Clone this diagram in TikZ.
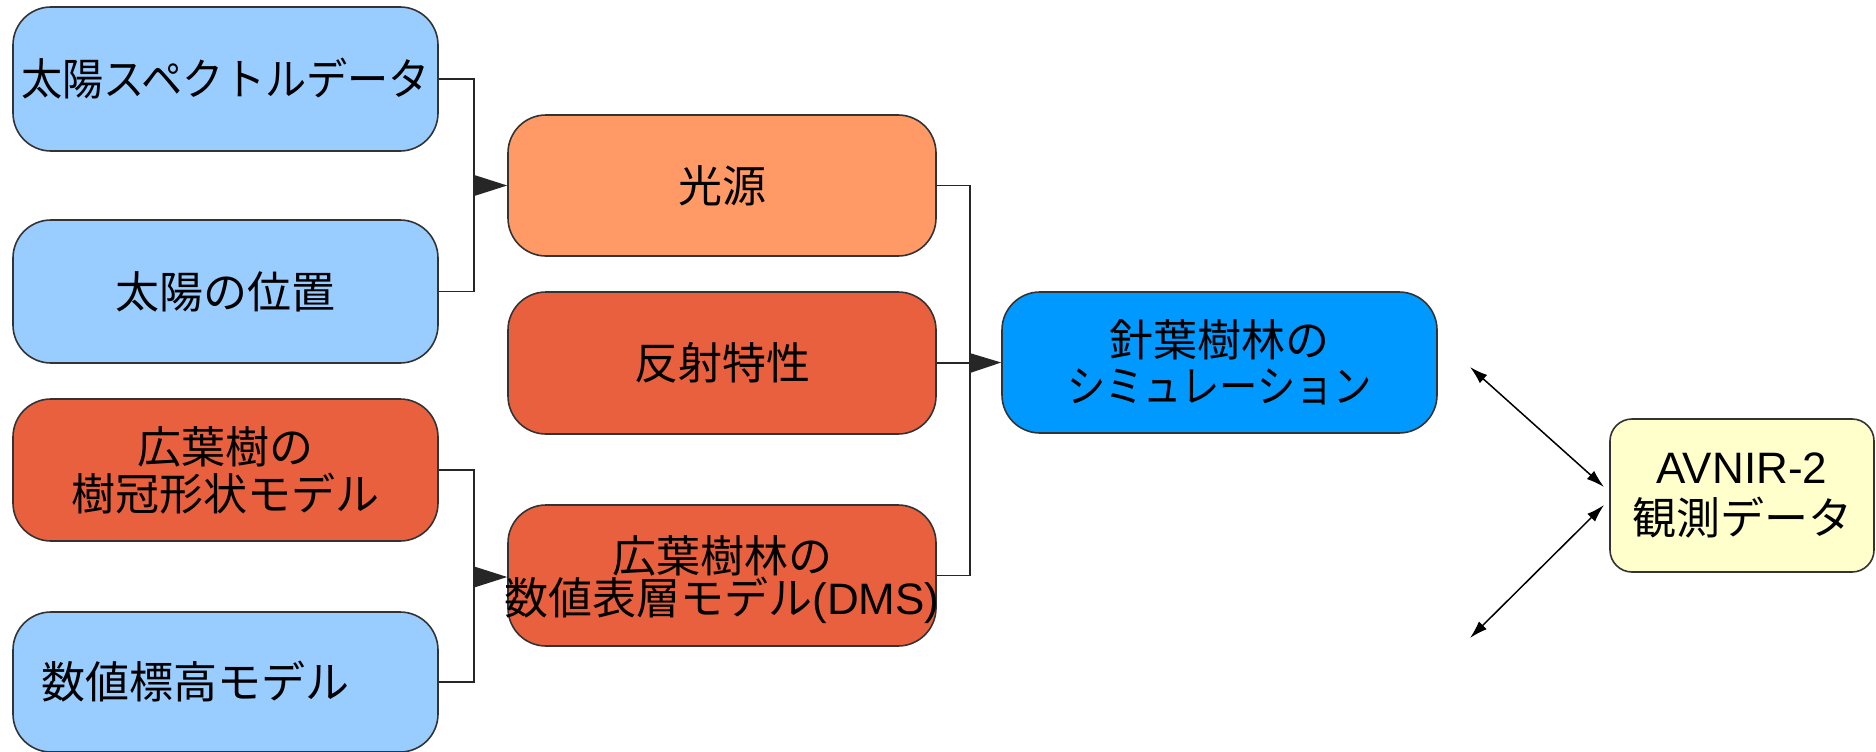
\documentclass[tikz,border=0pt]{standalone}
\usepackage{graphicx}
\usepackage{fontspec}
\setmainfont{Noto Sans CJK JP}
\newfontfamily\lat{Liberation Sans}
\usetikzlibrary{arrows.meta}
\definecolor{lblue}{HTML}{99CCFF}
\definecolor{lorange}{HTML}{FF9966}
\definecolor{rorange}{HTML}{E9603F}
\definecolor{bblue}{HTML}{0099FF}
\definecolor{lyellow}{HTML}{FFFFCC}
\definecolor{edge}{HTML}{333333}
\tikzset{
  box/.style={draw=edge, line width=1.6pt, rounded corners=38pt, align=center,
    inner sep=0pt, font=\fontsize{44}{47}\selectfont},
  conn/.style={draw=black!85, line width=1.5pt},
  arr/.style={conn, -{Triangle[length=32pt,width=20pt]}},
  darr/.style={draw=black, line width=1.5pt, {Latex[length=18pt,width=11pt]}-{Latex[length=18pt,width=11pt]}}
}
\begin{document}
\begin{tikzpicture}[x=1pt,y=-1pt]
\useasboundingbox (0,0) rectangle (1876,752);
% left column
\node[box, fill=lblue, minimum width=425pt, minimum height=144pt] (s1) at (225.5,79) {\scalebox{0.935}[1]{太陽スペクトルデータ}};
\node[box, fill=lblue, minimum width=425pt, minimum height=143pt] (s2) at (225.5,291.5) {太陽の位置};
\node[box, fill=rorange, minimum width=425pt, minimum height=142pt] (s3) at (225.5,470) {広葉樹の\\樹冠形状モデル};
\node[box, fill=lblue, minimum width=425pt, minimum height=140pt] (s4) at (225.5,682) {};
\node[font=\fontsize{44}{47}\selectfont] (s4t) at (195,682) {数値標高モデル};
% middle column
\node[box, fill=lorange, minimum width=428pt, minimum height=141pt] (m1) at (722,185.5) {光源};
\node[box, fill=rorange, minimum width=428pt, minimum height=142pt] (m2) at (722,363) {反射特性};
\node[box, fill=rorange, minimum width=428pt, minimum height=141pt] (m3) at (722,575.5) {};
\node[font=\fontsize{44}{42}\selectfont, align=center] (m3t) at (722,580) {広葉樹林の\\数値表層モデル{\lat(DMS)}};
% simulation
\node[box, fill=bblue, minimum width=435pt, minimum height=141pt] (sim) at (1219.5,362.5) {針葉樹林の\\[-1pt]\scalebox{0.87}[1]{シミュレーション}};
% observation
\node[box, fill=lyellow, rounded corners=22pt, minimum width=264pt, minimum height=153pt,
      font=\fontsize{44}{51}\selectfont] (av) at (1742,495.5) {{\lat AVNIR-2}\\観測データ};
% junctions
\coordinate (j1) at (474,185.5);
\coordinate (j2) at (474,577);
\coordinate (j3) at (970,363);
\draw[conn] (s1.east) -| (j1);
\draw[conn] (s2.east) -| (j1);
\draw[arr] (j1) -- (m1.west);
\draw[conn] (s3.east) -| (j2);
\draw[conn] (s4.east) -| (j2);
\draw[arr] (j2) -- (j2 -| m3.west);
\draw[conn] (m1.east) -| (j3);
\draw[conn] (m3.east) -| (j3);
\draw[conn] (m2.east) -- (j3);
\draw[arr] (j3) -- (sim.west);
% double arrows
\coordinate (a1) at (1470,367);
\coordinate (a2) at (1604,487);
\coordinate (a3) at (1604,505);
\coordinate (a4) at (1470,638);
\draw[darr] (a1) -- (a2);
\draw[darr] (a3) -- (a4);
\end{tikzpicture}
\end{document}
